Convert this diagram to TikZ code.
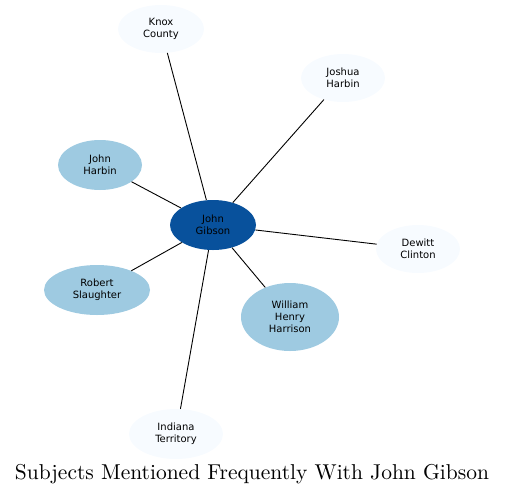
\documentclass[tikz,border=0pt]{standalone}
\usepackage{fontspec}
\usepackage{xcolor}
\usepackage{tikz}
\usetikzlibrary{shapes.geometric}
\newfontfamily\subjfont{DejaVu Sans}
\newfontfamily\titlefont{lmroman10-regular}[Extension=.otf]
\definecolor{hubblue}{HTML}{08519C}
\definecolor{midblue}{HTML}{9ECAE1}
\definecolor{paleblue}{HTML}{F7FBFF}

\begin{document}
\begin{tikzpicture}[
    x=1pt, y=-1pt,
    subj/.style={ellipse, inner sep=0pt, align=center, text=black, font=\subjfont\fontsize{10}{12}\selectfont},
    hub/.style={subj, fill=hubblue, minimum width=86pt, minimum height=50pt},
    near/.style={subj, fill=midblue},
    far/.style={subj, fill=paleblue},
    link/.style={line width=0.9pt, black}
]
  \useasboundingbox (0,0) rectangle (505,496);

  % outer subjects
  \node[far, minimum width=86pt, minimum height=48pt] (knox) at (161,29) {Knox\\County};
  \node[far, minimum width=84pt, minimum height=48pt] (joshua) at (343,78) {Joshua\\Harbin};
  \node[near, minimum width=84pt, minimum height=50pt] (jharbin) at (100,165) {John\\Harbin};
  \node[far, minimum width=84pt, minimum height=48pt] (dewitt) at (418,249) {Dewitt\\Clinton};
  \node[near, minimum width=106pt, minimum height=50pt] (robert) at (97,290) {Robert\\Slaughter};
  \node[near, minimum width=98pt, minimum height=68pt] (william) at (290,317) {William\\Henry\\Harrison};
  \node[far, minimum width=94pt, minimum height=50pt] (indiana) at (176,434) {Indiana\\Territory};

  % central subject
  \node[hub] (gibson) at (213,225) {John\\Gibson};

  % links
  \foreach \other in {knox,joshua,jharbin,dewitt,robert,william,indiana}
    \draw[link] (gibson) -- (\other);

  % title
  \node[font=\titlefont\fontsize{21.5}{25}\selectfont] (title) at (252,474) {Subjects Mentioned Frequently With John Gibson};
\end{tikzpicture}
\end{document}
